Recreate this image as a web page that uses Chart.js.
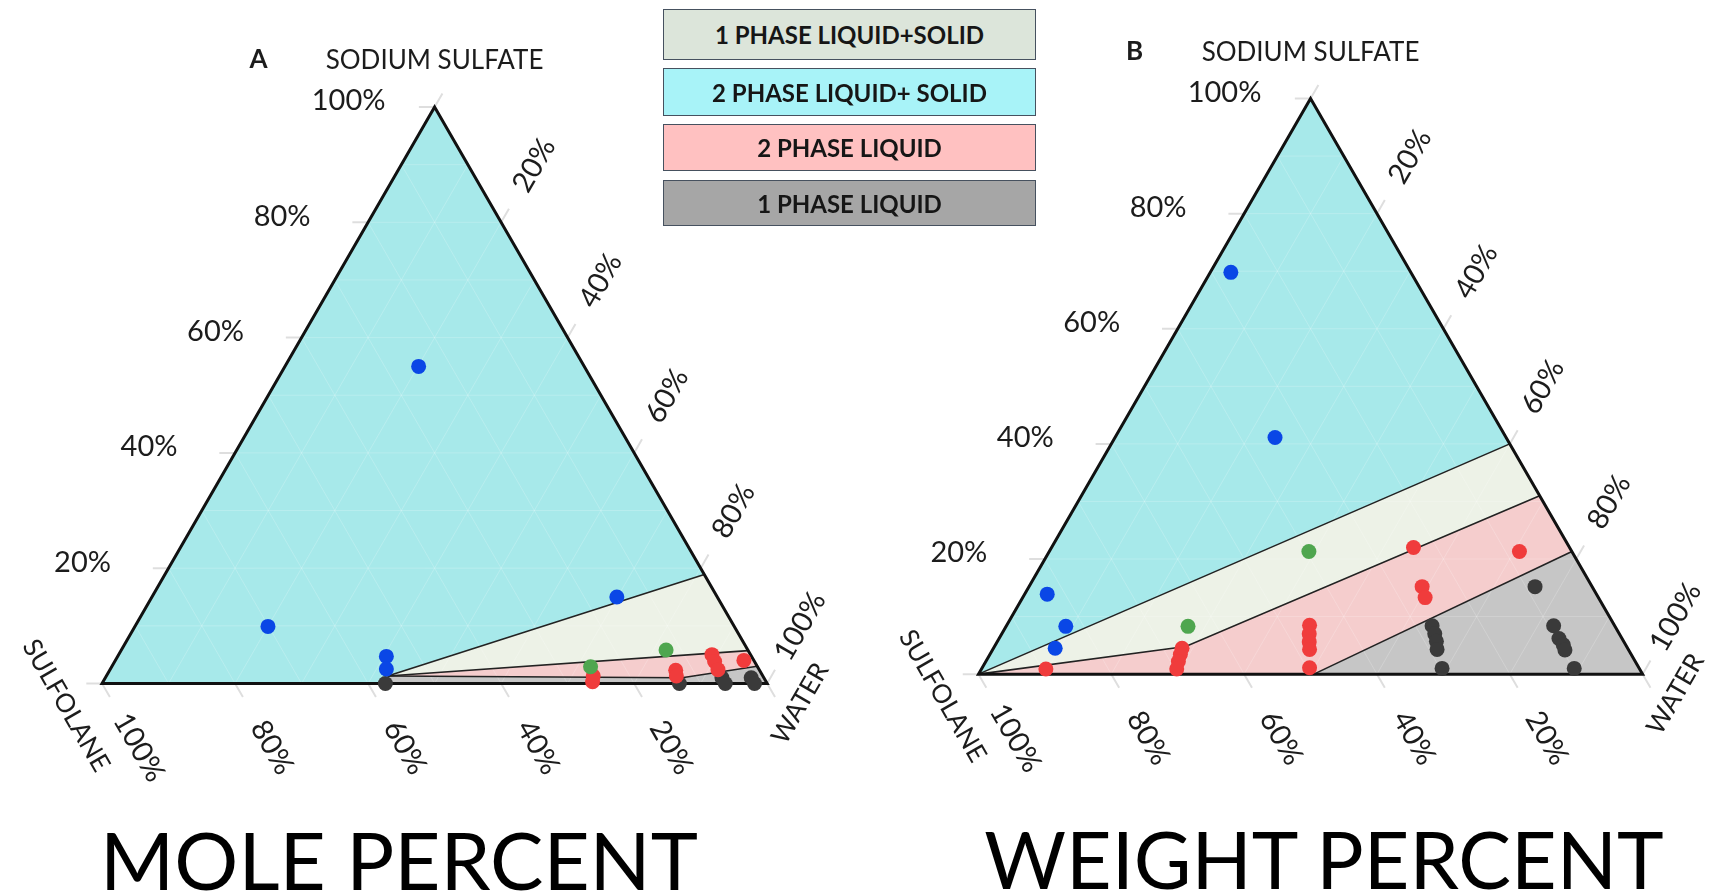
<!DOCTYPE html>
<html>
<head>
<meta charset="utf-8">
<script src="https://cdn.jsdelivr.net/npm/chart.js@4.4.1/dist/chart.umd.min.js"></script>
<style>
  html, body { margin: 0; padding: 0; background: #ffffff; }
  body { width: 1714px; height: 895px; position: relative; overflow: hidden; font-family: Lato, "Open Sans", sans-serif; }
  canvas { position: absolute; top: 0; }
  #moleCanvas { left: 0; }
  #weightCanvas { left: 857px; }
  .key { position: absolute; left: 663px; width: 373px; box-sizing: border-box; border: 1.5px solid #46515f;
         font: 700 24px Lato, sans-serif; color: #161616; display: flex; align-items: center; justify-content: center; }
  .title { position: absolute; top: 819px; font: 400 80px/1 Lato, sans-serif; color: #000; white-space: nowrap; transform: translateX(-50%); }
</style>
</head>
<body>
<canvas id="moleCanvas" width="857" height="895"></canvas>
<canvas id="weightCanvas" width="857" height="895"></canvas>
<div id="keys"></div>
<div class="title" style="left:399px">MOLE PERCENT</div>
<div class="title" style="left:1324px;font-size:79px">WEIGHT PERCENT</div>
<script>
// Compositions are [sodium sulfate %, sulfolane %, water %].

// ---- Mole percent diagram (A) ----
const moleTwoPhaseSolid = [[55.0, 24.9, 20.1], [9.9, 70.1, 20.0], [15.0, 15.1, 69.9], [4.7, 54.9, 40.4], [2.5, 56.0, 41.5]];
const moleOnePhaseSolid = [[2.9, 25.1, 72.0], [5.8, 12.3, 81.9]];
const moleTwoPhaseLiquid = [[1.3, 25.5, 73.2], [0.3, 26.1, 73.6], [2.3, 12.6, 85.1], [1.3, 13.0, 85.7],
                            [5.0, 5.8, 89.2], [3.8, 6.0, 90.2], [2.4, 6.2, 91.4], [4.0, 1.5, 94.5]];
const moleOnePhaseLiquid = [[0, 57.4, 42.6], [0, 13.2, 86.8], [1.0, 6.3, 92.7], [0, 6.3, 93.7], [1.0, 1.9, 97.1], [0, 1.9, 98.1]];

const moleZoneTwoSolid = [[100, 0, 0], [0, 100, 0], [0, 57.7, 42.3], [1.3, 56.4, 42.3], [18.9, 0, 81.1]];
const moleZoneOneSolid = [[1.3, 56.4, 42.3], [18.9, 0, 81.1], [5.7, 0, 94.3]];
const moleZoneTwoLiquid = [[1.3, 56.4, 42.3], [5.7, 0, 94.3], [3.0, 0, 97.0], [1.0, 12.3, 86.7]];
const moleZoneOneLiquid = [[1.3, 56.4, 42.3], [1.0, 12.3, 86.7], [3.0, 0, 97.0], [0, 0, 100], [0, 57.7, 42.3]];
const moleBoundaries = [
  [[1.3, 56.4, 42.3], [18.9, 0, 81.1]],
  [[1.3, 56.4, 42.3], [5.7, 0, 94.3]],
  [[1.3, 56.4, 42.3], [1.0, 12.3, 86.7], [3.0, 0, 97.0]]
];

// ---- Weight percent diagram (B) ----
const weightTwoPhaseSolid = [[69.8, 27.1, 3.1], [41.1, 34.8, 24.1], [13.9, 82.7, 3.4], [8.3, 82.7, 9.0], [4.5, 86.2, 9.3]];
const weightOnePhaseSolid = [[21.3, 39.6, 39.1], [8.3, 64.3, 27.4]];
const weightTwoPhaseLiquid = [[22.0, 23.5, 54.5], [21.3, 7.9, 70.8], [15.2, 25.6, 59.2], [13.3, 26.1, 60.6], [0.9, 89.4, 9.7],
                              [4.5, 67.1, 28.4], [3.4, 67.9, 28.7], [2.2, 68.8, 29.0], [0.9, 69.7, 29.4],
                              [8.5, 45.9, 45.6], [7.0, 46.7, 46.3], [5.6, 47.4, 47.0], [4.3, 48.0, 47.7], [1.1, 49.6, 49.3]];
const weightOnePhaseLiquid = [[15.2, 8.6, 76.2], [8.4, 27.5, 64.1], [7.0, 27.8, 65.2], [5.7, 28.2, 66.1], [4.3, 28.8, 66.9], [1.0, 29.7, 69.3],
                              [8.4, 9.2, 82.4], [6.2, 9.5, 84.3], [5.1, 9.4, 85.5], [4.2, 9.6, 86.2], [1.0, 9.8, 89.2]];

const weightZoneTwoSolid = [[100, 0, 0], [0, 100, 0], [40, 0, 60]];
const weightZoneOneSolid = [[0, 100, 0], [4.8, 66.4, 28.8], [31, 0, 69], [40, 0, 60]];
const weightZoneTwoLiquid = [[0, 100, 0], [4.8, 66.4, 28.8], [31, 0, 69], [21.3, 0, 78.7], [0, 49.5, 50.5]];
const weightZoneOneLiquid = [[0, 49.5, 50.5], [21.3, 0, 78.7], [0, 0, 100]];
const weightBoundaries = [
  [[0, 100, 0], [40, 0, 60]],
  [[0, 100, 0], [4.8, 66.4, 28.8], [31, 0, 69]],
  [[0, 49.5, 50.5], [21.3, 0, 78.7]]
];

// ---- Axes and key ----
const tickValues = [20, 40, 60, 80, 100];
const tickLabels = ['20%', '40%', '60%', '80%', '100%'];
const gridValues = [10, 20, 30, 40, 50, 60, 70, 80, 90];
const phaseNames = ['1 PHASE LIQUID+SOLID', '2 PHASE LIQUID+ SOLID', '2 PHASE LIQUID', '1 PHASE LIQUID'];
const keyColors = ['#dce5da', '#a8f3f8', '#ffc1c1', '#a6a6a6'];
const zoneColors = { oneSolid: '#edf2e7', twoSolid: '#a7e9ea', twoLiquid: '#f5cdcd', oneLiquid: '#c6c6c6' };
const dotColors = { twoSolid: '#0a47e6', oneSolid: '#4fa64f', twoLiquid: '#f03c3c', oneLiquid: '#3a3a3a' };

// key boxes
const keyBoxes = [[9, 51], [68, 48], [124, 47], [180, 46]];
const keysEl = document.getElementById('keys');
phaseNames.forEach((name, i) => {
  const d = document.createElement('div');
  d.className = 'key';
  d.style.top = keyBoxes[i][0] + 'px';
  d.style.height = keyBoxes[i][1] + 'px';
  d.style.background = keyColors[i];
  d.textContent = name;
  keysEl.appendChild(d);
});

// ternary -> cartesian (side length 1, sulfolane at origin, water at (1,0), sodium sulfate at apex)
const H = Math.sqrt(3) / 2;
function toXY(comp) {
  const a = comp[0] / 100, c = comp[2] / 100;
  return { x: c + a / 2, y: a * H };
}

function polygon(verts, color) {
  const pts = verts.map(toXY);
  pts.push(pts[0]);
  return { type: 'line', data: pts, fill: 'shape', backgroundColor: color, borderWidth: 0,
           pointRadius: 0, order: 4 };
}
function polyline(verts, color, width, order) {
  return { type: 'line', data: verts.map(toXY), fill: false, borderColor: color, borderWidth: width,
           pointRadius: 0, order: order };
}
function dots(list, color) {
  return { type: 'scatter', data: list.map(toXY), backgroundColor: color, borderWidth: 0,
           pointRadius: 7.5, order: 0 };
}

// triangular grid at every 10 %, broken into separate strokes by null points
function gridData() {
  const out = [];
  gridValues.forEach(k => {
    out.push(toXY([k, 100 - k, 0]), toXY([k, 0, 100 - k]), { x: null, y: null });
    out.push(toXY([0, 100 - k, k]), toXY([100 - k, 0, k]), { x: null, y: null });
    out.push(toXY([0, k, 100 - k]), toXY([100 - k, k, 0]), { x: null, y: null });
  });
  return out;
}
// short tick strokes just outside each edge
function tickData(len) {
  const out = [];
  [0, 20, 40, 60, 80, 100].forEach(k => {
    let p = toXY([k, 100 - k, 0]);                       // sodium sulfate, left edge
    out.push(p, { x: p.x - len, y: p.y }, { x: null, y: null });
    p = toXY([0, k, 100 - k]);                           // sulfolane, bottom edge
    out.push(p, { x: p.x + len * 0.5, y: p.y - len * H }, { x: null, y: null });
    p = toXY([100 - k, 0, k]);                           // water, right edge
    out.push(p, { x: p.x + len * 0.5, y: p.y + len * H }, { x: null, y: null });
  });
  return out;
}

function rotText(ctx, s, cx, cy, ang) {
  ctx.save();
  ctx.translate(cx, cy);
  ctx.rotate(ang);
  ctx.fillText(s, 0, 0);
  ctx.restore();
}

const ternaryLabels = {
  id: 'ternaryLabels',
  afterDatasetsDraw(chart, args, opts) {
    const { ctx } = chart;
    const xs = chart.scales.x, ys = chart.scales.y;
    const P = comp => { const p = toXY(comp); return [xs.getPixelForValue(p.x), ys.getPixelForValue(p.y)]; };
    ctx.save();
    ctx.fillStyle = '#1c1c1c';
    ctx.textAlign = 'center';
    ctx.textBaseline = 'middle';
    ctx.font = '29px Lato, sans-serif';
    tickValues.forEach((k, i) => {
      const s = tickLabels[i];
      let [px, py] = P([k, 100 - k, 0]);
      ctx.fillText(s, px - 86, py - 6);
      [px, py] = P([100 - k, 0, k]);
      rotText(ctx, s, px + 33, py - 57, -Math.PI / 3);
      [px, py] = P([0, k, 100 - k]);
      rotText(ctx, s, px + 37, py + 64, Math.PI / 3);
    });
    ctx.font = '26px Lato, sans-serif';
    const [ax, ay] = P([100, 0, 0]);
    ctx.fillText('SODIUM SULFATE', ax, ay - 46);
    const [bx, by] = P([0, 100, 0]);
    rotText(ctx, 'SULFOLANE', bx - 36, by + 22, Math.PI / 3);
    const [wx, wy] = P([0, 0, 100]);
    rotText(ctx, 'WATER', wx + 33, wy + 20, -Math.PI / 3);
    ctx.font = '700 26px Lato, sans-serif';
    ctx.fillText(opts.letter, ax - 176, ay - 47);
    ctx.restore();
  }
};

function makeChart(id, letter, frame, groups, zones, boundaries) {
  const side = frame.side, W = 857, Ht = 895;
  const datasets = [
    dots(groups[0], dotColors.twoSolid),
    dots(groups[1], dotColors.oneSolid),
    dots(groups[2], dotColors.twoLiquid),
    dots(groups[3], dotColors.oneLiquid),
    polyline([[0, 50, 50], [0, 0, 100], [100, 0, 0], [0, 100, 0], [0, 50, 50]], '#111111', 3, 1),
    ...boundaries.map(b => polyline(b, '#222222', 1.6, 2)),
    { type: 'line', data: gridData(), borderColor: 'rgba(255,255,255,0.2)', borderWidth: 1,
      pointRadius: 0, fill: false, spanGaps: false, order: 3 },
    { type: 'line', data: tickData(16 / side), borderColor: 'rgba(0,0,0,0.13)', borderWidth: 2,
      pointRadius: 0, fill: false, spanGaps: false, order: 3 },
    polygon(zones[0], zoneColors.twoSolid),
    polygon(zones[1], zoneColors.oneSolid),
    polygon(zones[2], zoneColors.twoLiquid),
    polygon(zones[3], zoneColors.oneLiquid)
  ];
  return new Chart(document.getElementById(id), {
    type: 'scatter',
    data: { datasets },
    options: {
      responsive: false,
      animation: false,
      events: [],
      devicePixelRatio: 1,
      layout: { padding: 0 },
      scales: {
        x: { type: 'linear', display: false, bounds: 'data', min: -frame.left / side, max: (W - frame.left) / side },
        y: { type: 'linear', display: false, bounds: 'data', min: (frame.bottom - Ht) / side, max: frame.bottom / side }
      },
      plugins: { legend: { display: false }, tooltip: { enabled: false }, ternaryLabels: { letter } }
    },
    plugins: [ternaryLabels]
  });
}

makeChart('moleCanvas', 'A', { left: 96.2, bottom: 687.5, side: 677 },
  [moleTwoPhaseSolid, moleOnePhaseSolid, moleTwoPhaseLiquid, moleOnePhaseLiquid],
  [moleZoneTwoSolid, moleZoneOneSolid, moleZoneTwoLiquid, moleZoneOneLiquid], moleBoundaries);

makeChart('weightCanvas', 'B', { left: 116, bottom: 678, side: 676 },
  [weightTwoPhaseSolid, weightOnePhaseSolid, weightTwoPhaseLiquid, weightOnePhaseLiquid],
  [weightZoneTwoSolid, weightZoneOneSolid, weightZoneTwoLiquid, weightZoneOneLiquid], weightBoundaries);
</script>
</body>
</html>
